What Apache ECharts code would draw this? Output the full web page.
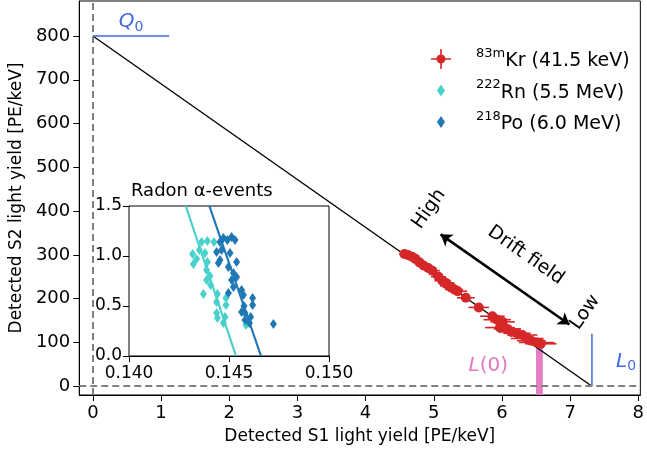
<!DOCTYPE html>
<html><head><meta charset="utf-8">
<script src="https://cdn.jsdelivr.net/npm/echarts@6/dist/echarts.min.js"></script>
<style>html,body{margin:0;padding:0;background:#fff}#c{width:647px;height:450px}</style>
</head><body><div id="c"></div>
<script>
const FONT = 'DejaVu Sans';
// ---- tick labels ----
const xTicks = [0, 1, 2, 3, 4, 5, 6, 7, 8];
const yTicks = [0, 100, 200, 300, 400, 500, 600, 700, 800];
const insetXTicks = [0.140, 0.145, 0.150];
const insetXLabels = ['0.140', '0.145', '0.150'];
const insetYTicks = [0, 0.5, 1.0, 1.5];
const insetYLabels = ['0.0', '0.5', '1.0', '1.5'];

// ---- model line (Q0 -> L0) ----
const lineS1 = [0, 7.32];
const lineS2 = [800, 0];
const q0S1 = [0, 1.12];
const q0S2 = [800, 800];
const l0S1 = [7.32, 7.32];
const l0S2 = [0, 120];
const lZeroBand = [6.5, 6.6];
const lZeroTop = 88;
const driftArrowS1 = [5.10, 6.99];
const driftArrowS2 = [347, 141];

// ---- 83mKr points ----
const krS1 = [4.57, 4.62, 4.68, 4.73, 4.79, 4.85, 4.92, 4.98, 5.07, 5.13, 5.18, 5.22, 5.26, 5.30, 5.35, 5.47, 5.66, 5.86, 5.93, 6.01, 5.97, 6.08, 6.14, 6.22, 6.30, 6.37, 6.43, 6.51, 6.57];
const krS2 = [302, 300, 296, 291, 283, 276, 270, 264, 250, 241, 236, 229, 226, 221, 217, 202, 180, 160, 152, 147, 134, 131, 124, 121, 117, 109, 104, 100, 97];
const krS1Err = [0.08, 0.08, 0.09, 0.09, 0.10, 0.10, 0.10, 0.11, 0.11, 0.12, 0.12, 0.13, 0.13, 0.13, 0.14, 0.13, 0.15, 0.18, 0.20, 0.18, 0.22, 0.20, 0.19, 0.20, 0.22, 0.24, 0.21, 0.26, 0.23];
const krS2Err = [9, 9, 9, 9, 9, 9, 9, 9, 9, 9, 9, 9, 9, 9, 9, 8, 8, 8, 8, 8, 8, 8, 8, 8, 8, 8, 8, 8, 8];

// ---- inset: radon alpha events ----
const rnX = [0.14318, 0.14322, 0.14338, 0.14352, 0.14363, 0.14392, 0.14425, 0.14380, 0.14392, 0.14388, 0.14405, 0.14388, 0.14408, 0.14372, 0.14442, 0.14438, 0.14485, 0.14485, 0.14438, 0.14442, 0.14472, 0.14480, 0.14585];
const rnY = [1.02, 0.92, 0.97, 1.06, 1.14, 1.15, 1.14, 1.03, 0.94, 0.86, 0.80, 0.76, 0.71, 0.62, 0.62, 0.54, 0.58, 0.51, 0.43, 0.38, 0.33, 0.39, 0.31];
const poX = [0.14438, 0.14455, 0.14472, 0.14492, 0.14513, 0.14530, 0.14463, 0.14455, 0.14447, 0.14505, 0.14538, 0.14497, 0.14522, 0.14513, 0.14538, 0.14522, 0.14497, 0.14563, 0.14572, 0.14618, 0.14618, 0.14575, 0.14563, 0.14580, 0.14608, 0.14580, 0.14602, 0.14722];
const poY = [1.04, 1.14, 1.18, 1.16, 1.19, 1.16, 1.06, 0.96, 0.93, 1.03, 0.94, 0.89, 0.83, 0.76, 0.79, 0.69, 0.63, 0.66, 0.61, 0.58, 0.51, 0.50, 0.44, 0.43, 0.39, 0.36, 0.33, 0.32];
const rnFitX = [0.14284, 0.14535];
const rnFitY = [1.5, 0];
const poFitX = [0.14402, 0.14660];
const poFitY = [1.5, 0];

const RED = '#d62728', CYAN = '#48d1cc', BLUE = '#1f77b4', PINK = '#e377c2', ROYAL = '#4169e1';
const zip = (a, b) => a.map((v, i) => [v, b[i]]);

const corners = 'M0,0L0.01,0L0,0.01Z M40,22L39.99,22L40,21.99Z ';
const krIcon = 'path://' + corners + 'M0,10.2H20V11.8H0Z M9.2,1H10.8V21H9.2Z M14.5,11A4.5,4.5,0,1,1,5.5,11A4.5,4.5,0,1,1,14.5,11Z';
const diaIcon = 'path://' + corners + 'M10,5L14,11L10,17L6,11Z';

const legendRich = {
  sup: {fontSize: 13, fontFamily: FONT, lineHeight: 14, verticalAlign: 'top', color: '#000'},
  t: {fontSize: 19, fontFamily: FONT, lineHeight: 24, verticalAlign: 'bottom', color: '#000'}
};
const legendText = {Kr: '{sup|83m}{t|Kr (41.5 keV)}', Rn: '{sup|222}{t|Rn (5.5 MeV)}', Po: '{sup|218}{t|Po (6.0 MeV)}'};

function errRender(params, api) {
  const x = api.value(0), y = api.value(1), xe = api.value(2), ye = api.value(3);
  const l = api.coord([x - xe, y]), r = api.coord([x + xe, y]);
  const t = api.coord([x, y + ye]), b = api.coord([x, y - ye]);
  return {type: 'group', children: [
    {type: 'line', shape: {x1: l[0], y1: l[1], x2: r[0], y2: r[1]}, style: {stroke: RED, lineWidth: 1.6}},
    {type: 'line', shape: {x1: t[0], y1: t[1], x2: b[0], y2: b[1]}, style: {stroke: RED, lineWidth: 1.6}}
  ]};
}

const blackAxis = {lineStyle: {color: '#000', width: 1}};
const option = {
  animation: false,
  backgroundColor: '#fff',
  textStyle: {fontFamily: FONT},
  title: {text: 'Radon α-events', left: 126, top: 177, textStyle: {fontFamily: FONT, fontSize: 18, fontWeight: 'normal', color: '#000'}},
  legend: {
    left: 426, top: 42, orient: 'vertical', itemWidth: 40, itemHeight: 22, itemGap: 7.5,
    selectedMode: false, data: [{name: 'Kr', icon: krIcon}, {name: 'Rn', icon: diaIcon}, {name: 'Po', icon: diaIcon}],
    formatter: n => legendText[n], textStyle: {rich: legendRich, fontSize: 19}
  },
  grid: [
    {left: 75, top: 1, width: 568, height: 394, show: true, borderColor: '#000', borderWidth: 1},
    {left: 129, top: 206, width: 200, height: 150, show: true, borderColor: '#000', borderWidth: 1, backgroundColor: '#fff', z: 5}
  ],
  xAxis: [
    {gridIndex: 0, type: 'value', min: -0.2, max: 8.03,
     axisLine: Object.assign({show: true, onZero: false}, blackAxis),
     axisTick: Object.assign({show: true, length: 6, customValues: xTicks}, blackAxis),
     axisLabel: {customValues: xTicks, fontSize: 18, color: '#000', margin: 9, fontFamily: FONT},
     splitLine: {show: false},
     name: 'Detected S1 light yield [PE/keV]', nameLocation: 'middle', nameGap: 33,
     nameTextStyle: {fontSize: 17, color: '#000', fontFamily: FONT}},
    {gridIndex: 1, type: 'value', min: 0.140, max: 0.150,
     axisLine: Object.assign({show: true, onZero: false}, blackAxis),
     axisTick: Object.assign({show: true, length: 6, customValues: insetXTicks}, blackAxis),
     axisLabel: {customValues: insetXTicks, formatter: v => insetXLabels[insetXTicks.findIndex(t => Math.abs(t - v) < 1e-9)] || '', fontSize: 17, color: '#000', margin: 9, fontFamily: FONT},
     splitLine: {show: false}}
  ],
  yAxis: [
    {gridIndex: 0, type: 'value', min: -20, max: 880,
     axisLine: Object.assign({show: true, onZero: false}, blackAxis),
     axisTick: Object.assign({show: true, length: 6, customValues: yTicks}, blackAxis),
     axisLabel: {customValues: yTicks, fontSize: 18, color: '#000', margin: 9, fontFamily: FONT},
     splitLine: {show: false},
     name: 'Detected S2 light yield [PE/keV]', nameLocation: 'middle', nameGap: 51,
     nameTextStyle: {fontSize: 17, color: '#000', fontFamily: FONT}},
    {gridIndex: 1, type: 'value', min: 0, max: 1.5,
     axisLine: Object.assign({show: true, onZero: false}, blackAxis),
     axisTick: Object.assign({show: true, length: 6, customValues: insetYTicks}, blackAxis),
     axisLabel: {customValues: insetYTicks, formatter: v => insetYLabels[insetYTicks.findIndex(t => Math.abs(t - v) < 1e-9)] || '', fontSize: 17, color: '#000', margin: 7, fontFamily: FONT},
     splitLine: {show: false}}
  ],
  series: [
    {name: 'model', type: 'line', xAxisIndex: 0, yAxisIndex: 0, data: zip(lineS1, lineS2), showSymbol: false,
     lineStyle: {color: '#000', width: 1.4}, z: 2,
     markLine: {silent: true, symbol: 'none', label: {show: false},
       lineStyle: {type: [7, 4], color: '#808080', width: 2},
       data: [{xAxis: 0}, {yAxis: 0}]},
     markArea: {silent: true, itemStyle: {color: PINK, opacity: 0.95},
       data: [[{coord: [lZeroBand[0], -20]}, {coord: [lZeroBand[1], lZeroTop]}]]}},
    {name: 'Q0', type: 'line', xAxisIndex: 0, yAxisIndex: 0, data: zip(q0S1, q0S2), showSymbol: false,
     lineStyle: {color: ROYAL, width: 1.5}, z: 3,
     markLine: {silent: true, symbol: ['arrow', 'arrow'], symbolSize: 11, label: {show: false},
       lineStyle: {type: 'solid', color: '#000', width: 2.6},
       data: [[{coord: [driftArrowS1[0], driftArrowS2[0]]}, {coord: [driftArrowS1[1], driftArrowS2[1]]}]]}},
    {name: 'L0', type: 'line', xAxisIndex: 0, yAxisIndex: 0, data: zip(l0S1, l0S2), showSymbol: false,
     lineStyle: {color: ROYAL, width: 1.5}, z: 3},
    {name: 'KrErr', type: 'custom', xAxisIndex: 0, yAxisIndex: 0, renderItem: errRender,
     data: krS1.map((x, i) => [x, krS2[i], krS1Err[i], krS2Err[i]]), z: 4},
    {name: 'Kr', type: 'scatter', xAxisIndex: 0, yAxisIndex: 0, data: zip(krS1, krS2), symbol: 'circle', symbolSize: 10,
     itemStyle: {color: RED, opacity: 1}, z: 5},
    {name: 'Rn', type: 'scatter', xAxisIndex: 1, yAxisIndex: 1, data: zip(rnX, rnY), symbol: 'diamond', symbolSize: [7, 10],
     itemStyle: {color: CYAN, opacity: 1}, z: 10},
    {name: 'Po', type: 'scatter', xAxisIndex: 1, yAxisIndex: 1, data: zip(poX, poY), symbol: 'diamond', symbolSize: [7, 10],
     itemStyle: {color: BLUE, opacity: 1}, z: 11},
    {name: 'RnFit', type: 'line', xAxisIndex: 1, yAxisIndex: 1, data: zip(rnFitX, rnFitY), showSymbol: false,
     lineStyle: {color: CYAN, width: 2.2}, z: 12},
    {name: 'PoFit', type: 'line', xAxisIndex: 1, yAxisIndex: 1, data: zip(poFitX, poFitY), showSymbol: false,
     lineStyle: {color: BLUE, width: 2.2}, z: 12}
  ]
};

const chart = echarts.init(document.getElementById('c'));
chart.setOption(option);

// annotations anchored to data coordinates
const P = (x, y) => chart.convertToPixel({gridIndex: 0}, [x, y]);
const annRich = {
  i: {fontFamily: FONT, fontSize: 20, fontStyle: 'italic'},
  n: {fontFamily: FONT, fontSize: 20},
  s: {fontFamily: FONT, fontSize: 14, padding: [10, 0, 0, 0]}
};
function txt(pos, text, color, rot, size) {
  return {type: 'text', x: pos[0], y: pos[1], rotation: (rot || 0) * Math.PI / 180, z: 50,
    style: {text: text, fill: color, font: (size || 19) + 'px "DejaVu Sans"', align: 'center', verticalAlign: 'middle',
      rich: {
        i: Object.assign({fill: color}, annRich.i), n: Object.assign({fill: color}, annRich.n), s: Object.assign({fill: color}, annRich.s)
      }}};
}
chart.setOption({graphic: [
  txt(P(0.56, 832), '{i|Q}{s|0}', ROYAL),
  txt(P(7.82, 56), '{i|L}{s|0}', ROYAL),
  txt(P(5.80, 46), '{i|L}{n|(0)}', PINK),
  txt(P(4.93, 405), 'High', '#000', 55),
  txt(P(6.35, 299), 'Drift field', '#000', -35),
  txt(P(7.22, 169), 'Low', '#000', 55)
]});
</script>
</body></html>
